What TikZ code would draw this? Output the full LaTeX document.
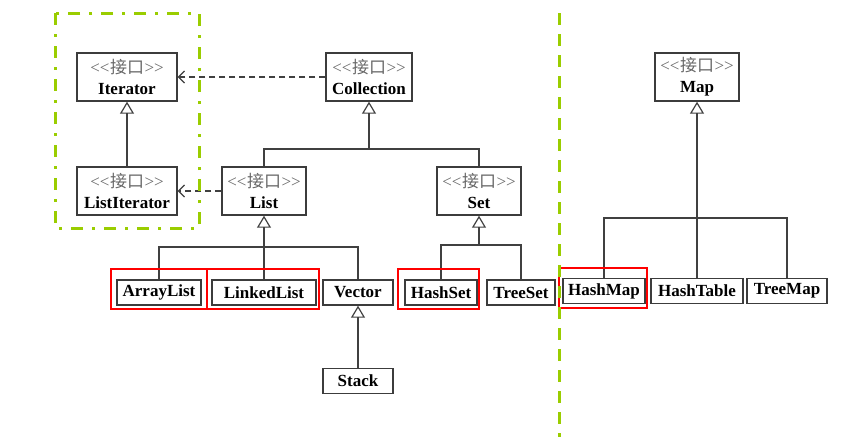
\documentclass[tikz,border=0pt]{standalone}
\usepackage{fontspec}
\setmainfont{Liberation Serif}
\newfontfamily\cjk{Noto Sans CJK SC}
\usepackage{tikz}
\usetikzlibrary{arrows.meta}
\definecolor{stereo}{HTML}{686868}
\definecolor{rahmen}{HTML}{3C3C3C}
\definecolor{gruen}{HTML}{9ACD00}
\newcommand*{\schnittstelle}[1]{% #1 = name of the interface
   \textcolor{stereo}{<\kern0pt<\kern0.5pt{\cjk 接口}\kern0.5pt>\kern0pt>}\\\textbf{#1}%
}

\begin{document}
\begin{tikzpicture}[
		x=1pt,
		y=-1pt,
		line width=1.3pt
	]
	  	\tikzstyle{iface}=[
	  		rectangle,
	  		draw=rahmen,
	  		line width=1.4pt,
	  		align=center,
	  		minimum height=48pt,
	  		inner sep=0pt,
	  		font=\fontsize{17}{21}\selectfont
	  	]
	  	\tikzstyle{klasse}=[
	  		rectangle,
	  		draw=rahmen,
	  		line width=1.4pt,
	  		minimum height=25pt,
	  		inner sep=0pt,
	  		font=\fontsize{17}{21}\selectfont\bfseries
	  	]
	  	\tikzstyle{erbt}=[
	  		draw=black!75,
	  		-{Triangle[open,length=12pt,width=14pt,line width=1.2pt]}
	  	]
	  	\tikzstyle{nutzt}=[
	  		draw=black!75,
	  		line width=1.5pt,
	  		dash pattern=on 6pt off 4pt,
	  		-{Straight Barb[length=6pt,width=12pt,line width=1.2pt]}
	  	]
	  	\tikzstyle{rot}=[draw=red, line width=2pt]
	  	
	  	\useasboundingbox (0,0) rectangle (858,437);
	  	
	  	% interfaces
	  	\node[iface, minimum width=100pt] (iter) at (127,77) {\schnittstelle{Iterator}};
	  	\node[iface, minimum width=100pt] (listiter) at (127,191) {\schnittstelle{ListIterator}};
	  	\node[iface, minimum width=86pt] (coll) at (369,77) {\schnittstelle{Collection}};
	  	\node[iface, minimum width=84pt] (list) at (264,191) {\schnittstelle{List}};
	  	\node[iface, minimum width=84pt] (set) at (479,191) {\schnittstelle{Set}};
	  	\node[iface, minimum width=84pt] (map) at (697,77) {\schnittstelle{Map}};
	  	
	  	% classes
	  	\node[klasse, minimum width=84pt] (arraylist) at (159,292.5) {ArrayList};
	  	\node[klasse, minimum width=104pt] (linkedlist) at (264,292.5) {LinkedList};
	  	\node[klasse, minimum width=70pt] (vector) at (358,292.5) {Vector};
	  	\node[klasse, minimum width=70pt] (stack) at (358,381) {Stack};
	  	\node[klasse, minimum width=72pt] (hashset) at (441,292.5) {HashSet};
	  	\node[klasse, minimum width=68pt] (treeset) at (521,292.5) {TreeSet};
	  	\node[klasse, minimum width=82pt] (hashmap) at (604,291) {HashMap};
	  	\node[klasse, minimum width=92pt] (hashtable) at (697,291) {HashTable};
	  	\node[klasse, minimum width=80pt] (treemap) at (787,291) {TreeMap};
	  	
	  	\coordinate (cj) at (369,149);
	  	\coordinate (lj) at (264,247);
	  	\coordinate (sj) at (479,245);
	  	\coordinate (mj) at (697,218);
	  	
	  	\draw[draw=black!75] (list.north) |- (cj) -| (set.north);
	  	\draw[erbt] (cj) -- (coll.south);
	  	\draw[draw=black!75] (arraylist.north) |- (lj) -| (vector.north);
	  	\draw[draw=black!75] (linkedlist.north) -- (lj);
	  	\draw[erbt] (lj) -- (list.south);
	  	\draw[erbt] (stack.north) -- (vector.south);
	  	\draw[draw=black!75] (hashset.north) |- (sj) -| (treeset.north);
	  	\draw[erbt] (sj) -- (set.south);
	  	\draw[draw=black!75] (hashmap.north) |- (mj) -| (treemap.north);
	  	\draw[draw=black!75] (hashtable.north) -- (mj);
	  	\draw[erbt] (mj) -- (map.south);
	  	\draw[erbt] (listiter.north) -- (iter.south);
	  	
	  	\draw[nutzt] (coll.west) -- (iter.east);
	  	\draw[nutzt] (list.west) -- (listiter.east);
	  	
	  	% markings
	  	\draw[rot] (111,269) rectangle (207,309);
	  	\draw[rot] (207,269) rectangle (319,309);
	  	\draw[rot] (398,269) rectangle (479,309);
	  	\draw[rot] (559,268) rectangle (647,308);
	  	\draw[gruen, line width=3pt, dash pattern=on 12pt off 9pt on 3pt off 9pt] (55,13) rectangle (199,228);
	  	\draw[gruen, line width=3pt, dash pattern=on 12pt off 9pt] (559,13) -- (559,437);
	\end{tikzpicture}
\end{document}
